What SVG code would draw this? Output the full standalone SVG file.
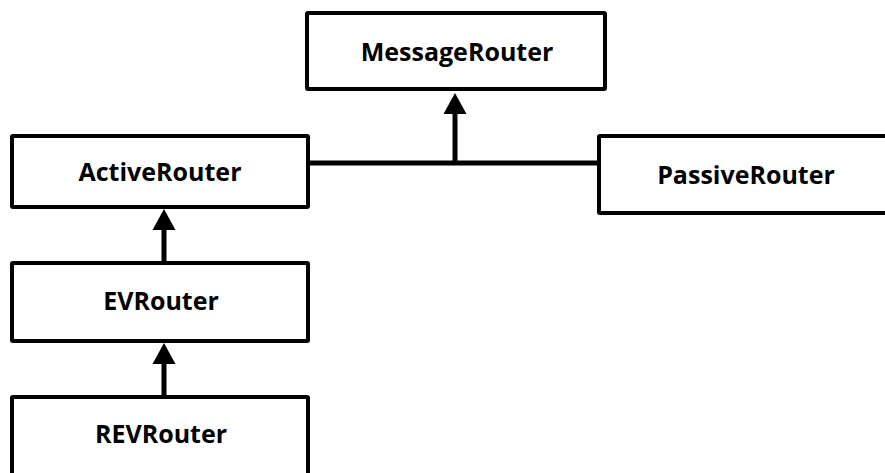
<svg xmlns="http://www.w3.org/2000/svg" width="885" height="473" viewBox="0 0 885 473">
  <style>
    .box { fill: #ffffff; stroke: #000000; stroke-width: 4; stroke-linejoin: round; }
    .lbl { font-family: "Open Sans", "Liberation Sans", sans-serif; font-weight: bold; font-size: 25px; fill: #000000; text-anchor: middle; }
    .wire { fill: none; stroke: #000000; stroke-width: 5; }
  </style>
  <defs>
    <!-- filled triangular head; the line ends at its base -->
    <marker id="head" markerUnits="userSpaceOnUse" markerWidth="22" markerHeight="24" refX="1" refY="12" orient="auto" viewBox="0 0 22 24">
      <path d="M0 0.5 L21 12 L0 23.5 Z" fill="#000000"/>
    </marker>
  </defs>
  <rect width="885" height="473" fill="#ffffff"/>

  <g id="connectors">
    <line class="wire" x1="308" y1="163" x2="600" y2="163"/>
    <line class="wire" x1="455" y1="165" x2="455" y2="113" marker-end="url(#head)"/>
    <line class="wire" x1="164" y1="263" x2="164" y2="229" marker-end="url(#head)"/>
    <line class="wire" x1="164" y1="397" x2="164" y2="363" marker-end="url(#head)"/>
  </g>

  <g id="MessageRouter">
    <rect class="box" x="307" y="13" width="298" height="76" rx="1"/>
    <text class="lbl" x="457" y="61">MessageRouter</text>
  </g>
  <g id="ActiveRouter">
    <rect class="box" x="12" y="136" width="296" height="71" rx="1"/>
    <text class="lbl" x="160" y="181">ActiveRouter</text>
  </g>
  <g id="PassiveRouter">
    <rect class="box" x="599" y="136" width="300" height="77" rx="1"/>
    <text class="lbl" x="746" y="184">PassiveRouter</text>
  </g>
  <g id="EVRouter">
    <rect class="box" x="12" y="263" width="296" height="78" rx="1"/>
    <text class="lbl" x="161" y="310">EVRouter</text>
  </g>
  <g id="REVRouter">
    <rect class="box" x="12" y="397" width="296" height="90" rx="1"/>
    <text class="lbl" x="161" y="443">REVRouter</text>
  </g>
</svg>
